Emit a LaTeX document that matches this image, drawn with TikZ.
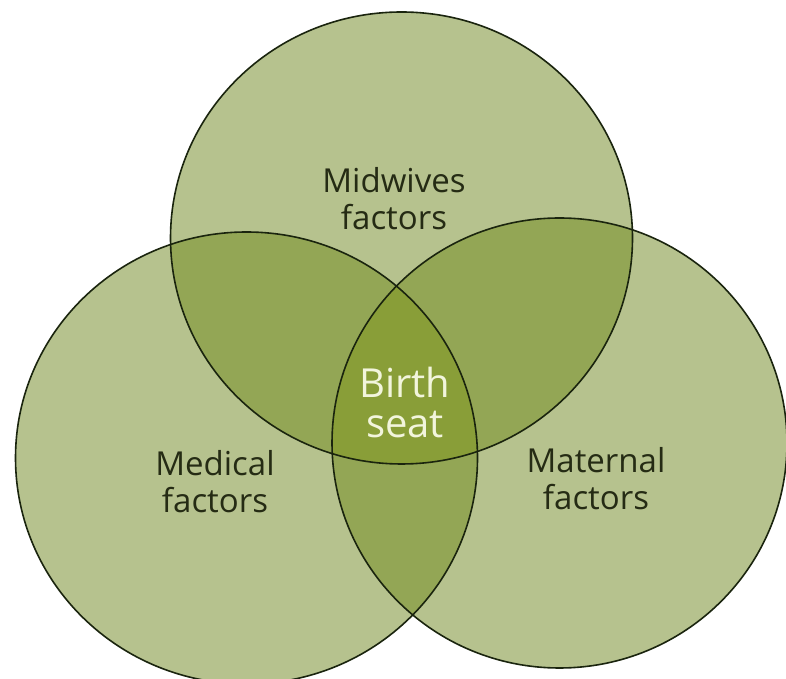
\documentclass[tikz,border=0pt]{standalone}
\usepackage{fontspec}
\setmainfont{Open Sans}
\definecolor{solo}{HTML}{B6C28E}
\definecolor{duo}{HTML}{93A655}
\definecolor{trio}{HTML}{899E38}
\definecolor{rim}{HTML}{1A240E}
\definecolor{ink}{HTML}{252B14}
\definecolor{pale}{HTML}{F2F5DC}
\tikzset{
  ring/.style={draw=rim, line width=1.6pt},
  lbl/.style={text=ink, align=center, inner sep=0pt, font=\fontsize{33}{37}\selectfont},
  core/.style={text=pale, align=center, inner sep=0pt, font=\fontsize{40}{40}\selectfont}
}
\begin{document}
\begin{tikzpicture}[x=1pt,y=1pt]
\clip (0,0) rectangle (786,679);
\fill[white] (0,0) rectangle (786,679);
\coordinate (mid) at (401.5,441);
\coordinate (med) at (246.5,221);
\coordinate (mat) at (559.5,236);
\fill[solo] (mid) ellipse [x radius=231, y radius=226];
\fill[solo] (med) ellipse [x radius=231, y radius=226];
\fill[solo] (mat) ellipse [x radius=227.5, y radius=225];
\begin{scope}
\clip (mid) ellipse [x radius=231, y radius=226];
\fill[duo] (med) ellipse [x radius=231, y radius=226];
\fill[duo] (mat) ellipse [x radius=227.5, y radius=225];
\end{scope}
\begin{scope}
\clip (med) ellipse [x radius=231, y radius=226];
\fill[duo] (mat) ellipse [x radius=227.5, y radius=225];
\end{scope}
\begin{scope}
\clip (mid) ellipse [x radius=231, y radius=226];
\clip (med) ellipse [x radius=231, y radius=226];
\fill[trio] (mat) ellipse [x radius=227.5, y radius=225];
\end{scope}
\draw[ring] (mid) ellipse [x radius=231, y radius=226];
\draw[ring] (med) ellipse [x radius=231, y radius=226];
\draw[ring] (mat) ellipse [x radius=227.5, y radius=225];
\node[lbl] (midlbl) at (394,480) {Midwives\\factors};
\node[lbl] (medlbl) at (215,197) {Medical\\factors};
\node[lbl] (matlbl) at (596,200) {Maternal\\factors};
\node[core] (seatlbl) at (405,276) {Birth\\seat};
\end{tikzpicture}
\end{document}
